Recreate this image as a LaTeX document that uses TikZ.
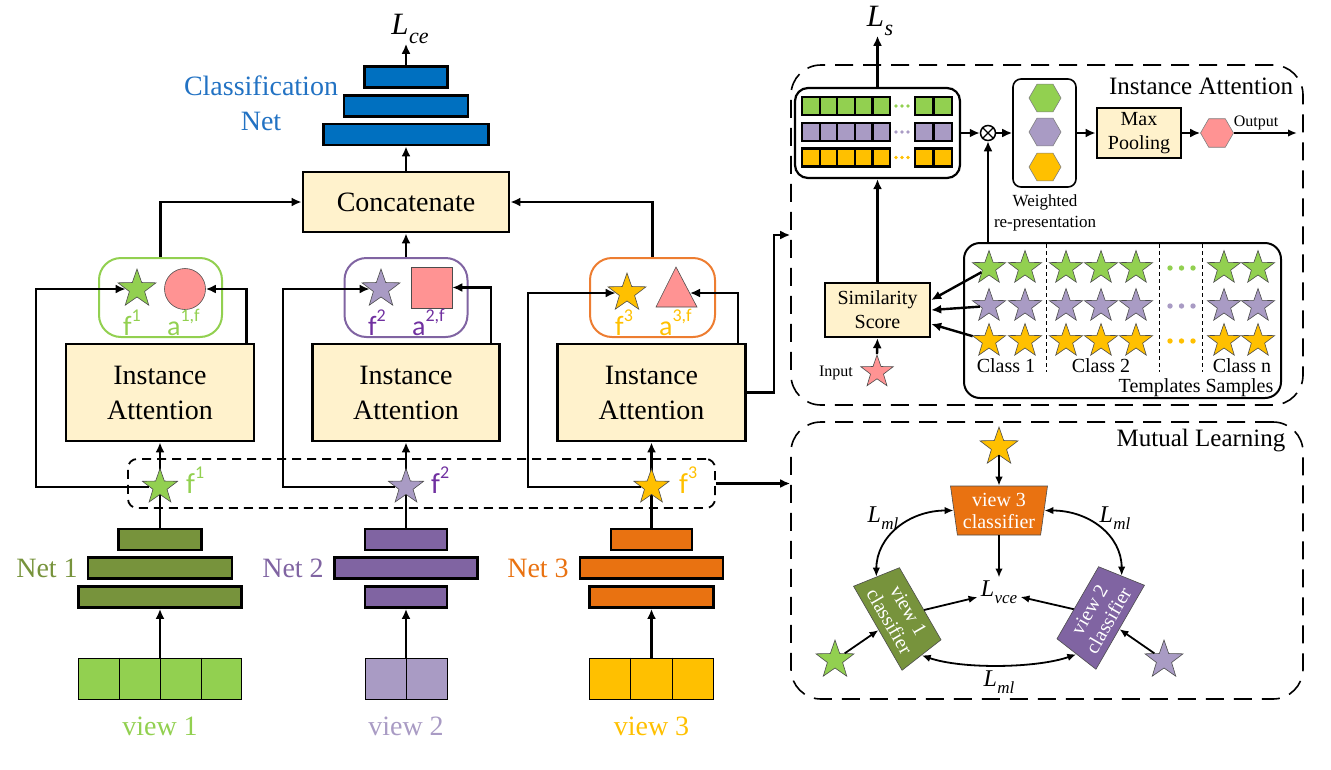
\documentclass[tikz,border=0pt]{standalone}
\usepackage{fontspec}
\setmainfont{Liberation Serif}
\newfontfamily\sansf{Carlito}
\usetikzlibrary{shapes.geometric,arrows.meta,calc}
\definecolor{lgreen}{HTML}{92D050}
\definecolor{olive}{HTML}{77933C}
\definecolor{npurple}{HTML}{8064A2}
\definecolor{lav}{HTML}{A99BC4}
\definecolor{dpurple}{HTML}{7030A0}
\definecolor{orng}{HTML}{E97211}
\definecolor{oborder}{HTML}{ED7D31}
\definecolor{ylw}{HTML}{FFC000}
\definecolor{pnk}{HTML}{FF9393}
\definecolor{cream}{HTML}{FFF2CC}
\definecolor{cblue}{HTML}{0070C0}
\definecolor{tblue}{HTML}{2272C3}
\newcommand\fsz[2]{\fontsize{#1}{#2}\selectfont}
\newcommand\fsup[2]{#1\raisebox{0.5em}{\fsz{18}{18}#2}}
% italic L with italic subscript: size of L, size of subscript, subscript text
\newcommand\Lsym[3]{{\fsz{#1}{#1}\itshape L\kern0.5pt\raisebox{-0.28em}{\fsz{#2}{#2}#3}}}
\tikzset{
  ar/.style={-{Latex[length=10pt,width=9pt]}, line width=2.4pt},
  ars/.style={-{Latex[length=9pt,width=7.5pt]}, line width=1.8pt},
  dar/.style={{Latex[length=9pt,width=7.5pt]}-{Latex[length=9pt,width=7.5pt]}, line width=1.8pt},
  ybox/.style={draw, line width=2.8pt, fill=cream, inner sep=0pt, align=center},
  bar/.style={draw, line width=2.8pt, inner sep=0pt, minimum height=21pt},
  rbox/.style={draw, line width=2pt, rounded corners=22pt, inner sep=0pt, minimum height=79pt},
  starn/.style={star, star points=5, star point ratio=2.5, inner sep=0pt, draw=black!70, line width=0.6pt},
  cell/.style={draw, line width=0.8pt, inner sep=0pt, minimum height=41pt},
  ldash/.style={draw, dash pattern=on 18pt off 10pt, line width=1.6pt, rounded corners=30pt, inner sep=0pt},
  hexn/.style={regular polygon, regular polygon sides=6, inner sep=0pt, draw=black!50, line width=0.6pt},
  lbl/.style={inner sep=0pt, align=center},
  trap/.style={trapezium, trapezium angle=79, trapezium stretches body=true, minimum width=97pt, minimum height=49pt, inner sep=0pt, draw=black!70, line width=0.6pt, text=white, align=center, font=\fsz{20}{22}},
}
\begin{document}
\begin{tikzpicture}[x=1pt,y=-1pt]
\useasboundingbox (0,0) rectangle (1331,769);

% ---------- classification net ----------
\node[bar, fill=cblue, minimum width=83pt] (b1) at (406,77) {};
\node[bar, fill=cblue, minimum width=124pt] (b2) at (406,106) {};
\node[bar, fill=cblue, minimum width=165pt] (b3) at (406,134.5) {};
\node[lbl] (Lce) at (410,29) {\Lsym{31}{22}{ce}};
\draw[ar] (b1.north) -- (b1.north |- Lce.south);
\node[lbl, text=tblue, font=\fsz{28}{35}] (cn) at (261,103) {Classification\\Net};
\node[ybox, minimum width=206pt, minimum height=60pt, font=\fsz{28}{30}] (cat) at (406,202) {Concatenate};
\draw[ar] (cat.north) -- (b3.south);

% ---------- rounded feature boxes ----------
\node[rbox, draw=lgreen, minimum width=123pt] (gb) at (160.5,297.5) {};
\node[rbox, draw=npurple, minimum width=123pt] (pb) at (406,297.5) {};
\node[rbox, draw=oborder, minimum width=125pt] (ob) at (652.5,297.5) {};
\draw[ar] (gb.north) |- (cat.west);
\draw[ar] (pb.north) -- (cat.south);
\draw[ar] (ob.north) |- (cat.east);

% ---------- instance attention boxes ----------
\node[ybox, minimum width=188pt, minimum height=97pt, font=\fsz{28}{35}] (ia1) at (160,392.5) {Instance\\Attention};
\node[ybox, minimum width=187pt, minimum height=97pt, font=\fsz{28}{35}] (ia2) at (406,392.5) {Instance\\Attention};
\node[ybox, minimum width=188pt, minimum height=97pt, font=\fsz{28}{35}] (ia3) at (651.5,392.5) {Instance\\Attention};

% ---------- nets ----------
\node[bar, fill=olive, minimum width=83pt] (n1a) at (160,539.5) {};
\node[bar, fill=olive, minimum width=144pt] (n1b) at (160,568) {};
\node[bar, fill=olive, minimum width=163pt] (n1c) at (160,597) {};
\node[bar, fill=npurple, minimum width=82pt] (n2a) at (406,539.5) {};
\node[bar, fill=npurple, minimum width=143pt] (n2b) at (406,568) {};
\node[bar, fill=npurple, minimum width=82pt] (n2c) at (406,597) {};
\node[bar, fill=orng, minimum width=81pt] (n3a) at (651.5,539.5) {};
\node[bar, fill=orng, minimum width=143pt] (n3b) at (651.5,568) {};
\node[bar, fill=orng, minimum width=124pt] (n3c) at (651.5,597) {};
\node[lbl, anchor=base, text=olive, font=\fsz{28}{28}] (nl1) at (47,577) {Net 1};
\node[lbl, anchor=base, text=npurple, font=\fsz{28}{28}] (nl2) at (293,577) {Net 2};
\node[lbl, anchor=base, text=orng, font=\fsz{28}{28}] (nl3) at (538,577) {Net 3};

% ---------- views ----------
\node[cell, fill=lgreen, minimum width=163pt] (v1) at (160,678.5) {};
\foreach \i in {1,2,3} \draw[line width=0.8pt] ($(v1.north west)!\i/4!(v1.north east)$) -- ($(v1.south west)!\i/4!(v1.south east)$);
\node[cell, fill=lav, minimum width=82pt] (v2) at (406,678.5) {};
\draw[line width=0.8pt] (v2.north) -- (v2.south);
\node[cell, fill=ylw, minimum width=124pt] (v3) at (651.5,678.5) {};
\foreach \i in {1,2} \draw[line width=0.8pt] ($(v3.north west)!\i/3!(v3.north east)$) -- ($(v3.south west)!\i/3!(v3.south east)$);
\node[lbl, anchor=base, text=lgreen, font=\fsz{28}{28}] (vl1) at (160,735) {view 1};
\node[lbl, anchor=base, text=lav, font=\fsz{28}{28}] (vl2) at (406,735) {view 2};
\node[lbl, anchor=base, text=ylw, font=\fsz{28}{28}] (vl3) at (651.5,735) {view 3};
\draw[ar] (v1.north) -- (n1c.south);
\draw[ar] (v2.north) -- (n2c.south);
\draw[ar] (v3.north) -- (n3c.south);

% ---------- dashed feature box ----------
\node[draw, dash pattern=on 9pt off 6pt, line width=1.8pt, rounded corners=9pt, minimum width=587pt, minimum height=49pt, inner sep=0pt] (fb) at (421.5,483.5) {};
\draw[ar] (n1a.north) -- (ia1.south);
\draw[ar] (n2a.north) -- (ia2.south);
\draw[ar] (n3a.north) -- (ia3.south);
\node[starn, fill=lgreen, minimum size=37pt] (fs1) at (160,487) {};
\node[starn, fill=lav, minimum size=37pt] (fs2) at (406,487) {};
\node[starn, fill=ylw, minimum size=37pt] (fs3) at (651.5,487) {};
\node[lbl, anchor=base west, text=lgreen, font=\sansf\fsz{29}{29}] (fl1) at (186,493) {\fsup{f}{1}};
\node[lbl, anchor=base west, text=dpurple, font=\sansf\fsz{29}{29}] (fl2) at (431,493) {\fsup{f}{2}};
\node[lbl, anchor=base west, text=ylw, font=\sansf\fsz{29}{29}] (fl3) at (679,493) {\fsup{f}{3}};

% ---------- contents of rounded boxes ----------
\node[starn, fill=lgreen, minimum size=40pt] (s1) at (137,289) {};
\node[circle, draw=black!70, line width=0.6pt, fill=pnk, minimum size=41pt, inner sep=0pt] (e1) at (185,289) {};
\node[lbl, anchor=base west, text=lgreen, font=\sansf\fsz{28}{28}] (f1t) at (123,335) {\fsup{f}{1}};
\node[lbl, anchor=base west, text=lgreen, font=\sansf\fsz{28}{28}] (a1t) at (167,335) {\fsup{a}{1,f}};

\node[starn, fill=lav, minimum size=40pt] (s2) at (381,289) {};
\node[draw=black!70, line width=0.6pt, fill=pnk, minimum size=41pt, inner sep=0pt] (sq2) at (431.5,287.5) {};
\node[lbl, anchor=base west, text=dpurple, font=\sansf\fsz{28}{28}] (f2t) at (368,335) {\fsup{f}{2}};
\node[lbl, anchor=base west, text=dpurple, font=\sansf\fsz{28}{28}] (a2t) at (412,335) {\fsup{a}{2,f}};

\node[starn, fill=ylw, minimum size=40pt] (s3) at (627,293) {};
\draw[draw=black!70, line width=0.6pt, fill=pnk] (676,267) -- (697,307) -- (656,307) -- cycle;
\coordinate (t3) at (690,293);
\node[lbl, anchor=base west, text=ylw, font=\sansf\fsz{28}{28}] (f3t) at (615,335) {\fsup{f}{3}};
\node[lbl, anchor=base west, text=ylw, font=\sansf\fsz{28}{28}] (a3t) at (659,335) {\fsup{a}{3,f}};

% ---------- loops ----------
\coordinate (l1) at (36,487);
\coordinate (l2) at (283,487);
\coordinate (l3) at (528,487);
\draw[ar] (fs1) -- (l1) |- (s1);
\draw[ar] (fs2) -- (l2) |- (s2);
\draw[ar] (fs3) -- (l3) |- (s3);
\draw[ar] ([xshift=-9pt]ia1.north east) |- (e1);
\draw[ar] ([xshift=-10pt]ia2.north east) |- (sq2);
\draw[ar] ([xshift=-9pt]ia3.north east) |- (t3);

% ---------- right: instance attention detail ----------
\node[ldash, minimum width=512pt, minimum height=340pt] (iab) at (1047,235) {};
\node[lbl, font=\fsz{25}{25}] (iat) at (1201,86) {Instance Attention};
\draw[ar] (ia3.east) -- ++(27,0) |- (iab.west);

\node[draw, line width=2.2pt, rounded corners=13pt, minimum width=165pt, minimum height=90pt, inner sep=0pt] (mb) at (877.5,133) {};
\foreach \y/\c in {106/lgreen,132/lav,157.5/ylw}{
  \foreach \i in {0,...,4} \draw[line width=2.2pt, fill=\c] ({802+17.6*\i},{\y-9}) rectangle ++(17.6,18);
  \foreach \i in {0,1} \draw[line width=2.2pt, fill=\c] ({915+18.5*\i},{\y-9}) rectangle ++(18.5,18);
  \foreach \xx in {896,902,908} \fill[\c] (\xx,\y) circle (1.9pt);
}
\node[lbl] (Ls) at (880,21) {\Lsym{31}{22}{s}};
\draw[ar] (mb.north) -- (mb.north |- Ls.south);

\node[circle, draw, line width=1.5pt, minimum size=15pt, inner sep=0pt, fill=white] (ot) at (988,133) {};
\draw[line width=1.3pt] (ot.45) -- (ot.225) (ot.135) -- (ot.315);
\draw[ar] (mb.east) -- (ot.west);

\node[draw, line width=1.6pt, rounded corners=8pt, minimum width=63pt, minimum height=108pt, inner sep=0pt] (hb) at (1044.5,133) {};
\node[hexn, fill=lgreen, minimum size=32pt] (h1) at (1045,98) {};
\node[hexn, fill=lav, minimum size=32pt] (h2) at (1045,132) {};
\node[hexn, fill=ylw, minimum size=32pt] (h3) at (1045,167) {};
\draw[ar] (ot.east) -- (hb.west);
\node[lbl, font=\fsz{17}{21}] (wr) at (1045,213) {Weighted\\re-presentation};

\node[ybox, minimum width=84pt, minimum height=50pt, font=\fsz{20}{24}] (mpool) at (1139,133) {Max\\Pooling};
\draw[ar] (hb.east) -- (mpool.west);
\node[hexn, fill=pnk, minimum size=33pt] (ph) at (1217,133) {};
\draw[ar] (mpool.east) -- (ph.west);
\coordinate (outp) at (1297,133);
\draw[ars] (ph.east) -- (outp);
\node[lbl, font=\fsz{16}{16}] (outl) at (1256,123) {Output};

% templates
\node[draw, line width=2pt, rounded corners=16pt, minimum width=317pt, minimum height=155pt, inner sep=0pt] (tb) at (1122.5,320.5) {};
\draw[ar] (tb.north -| ot) -- (ot.south);
\foreach \x in {1046,1159,1202} \draw[dash pattern=on 4pt off 3pt, line width=0.9pt] (\x,244) -- (\x,372);
\foreach \r/\y/\c in {1/268/lgreen,2/306/lav,3/341/ylw}{
  \foreach \k/\x in {1/989,2/1025,3/1066,4/1101,5/1136,6/1224,7/1258}
    \node[starn, fill=\c, minimum size=35pt] (t\r\k) at (\x,\y) {};
  \foreach \x in {1170,1181.5,1193} \fill[\c] (\x,\y) circle (2.7pt);
}
\node[lbl, font=\fsz{20}{20}] (c1) at (1006,366) {Class 1};
\node[lbl, font=\fsz{20}{20}] (c2) at (1101,366) {Class 2};
\node[lbl, font=\fsz{20}{20}] (cnn) at (1242,366) {Class n};
\node[lbl, font=\fsz{20}{20}] (tsl) at (1196,388) {Templates Samples};

\node[ybox, line width=2.4pt, minimum width=105pt, minimum height=54pt, font=\fsz{20}{24}] (ss) at (877.5,310) {Similarity\\Score};
\draw[ar] (ss.north) -- (mb.south);
\draw[ar] (t11) -- ([yshift=10pt]ss.east);
\draw[ar] (t21) -- (ss.east);
\draw[ar] (t31) -- ([yshift=-14pt]ss.east);
\node[starn, fill=pnk, minimum size=34pt] (ins) at (877,372) {};
\node[lbl, font=\fsz{16}{16}] (inl) at (836,373) {Input};
\draw[ar] (ins.north) -- (ss.south);

% ---------- mutual learning ----------
\node[ldash, minimum width=512pt, minimum height=277pt] (mlb) at (1047,560.5) {};
\node[lbl, font=\fsz{25}{25}] (mlt) at (1201,441) {Mutual Learning};
\draw[ar] (fb.east) -- (fb.east -| mlb.west);

\node[trap, fill=orng, shape border rotate=180] (v3c) at (999,510.5) {view 3\\classifier};
\node[trap, fill=olive, rotate=-60] (v1c) at (899,616) {view 1\\classifier};
\node[trap, fill=npurple, rotate=60] (v2c) at (1099,615) {view 2\\classifier};

\node[starn, fill=ylw, minimum size=40pt] (ys) at (999,447) {};
\draw[ars] (ys.south) -- (v3c.90);
\node[inner sep=3pt] (Lvce) at (999,592) {\Lsym{24}{17}{vce}};
\draw[ars] (v3c.270) -- (Lvce.north);
\draw[ars] (v1c) -- (Lvce);
\draw[ars] (v2c) -- (Lvce);

\node[starn, fill=lgreen, minimum size=40pt] (mg) at (835,660) {};
\node[starn, fill=lav, minimum size=40pt] (mpp) at (1164,660) {};
\draw[ars] (mg) -- (v1c);
\draw[ars] (mpp) -- (v2c);

\draw[dar] (v3c.180) .. controls +(-45,0) and +(0,-40) .. (v1c.180);
\draw[dar] (v3c.0) .. controls +(45,0) and +(0,-40) .. (v2c.0);
\draw[dar] (v1c.0) .. controls +(40,14) and +(-40,14) .. (v2c.180);
\node[lbl] (lm1) at (883,518) {\Lsym{24}{17}{ml}};
\node[lbl] (lm2) at (1115,518) {\Lsym{24}{17}{ml}};
\node[lbl] (lm3) at (999,682) {\Lsym{24}{17}{ml}};

\end{tikzpicture}
\end{document}
